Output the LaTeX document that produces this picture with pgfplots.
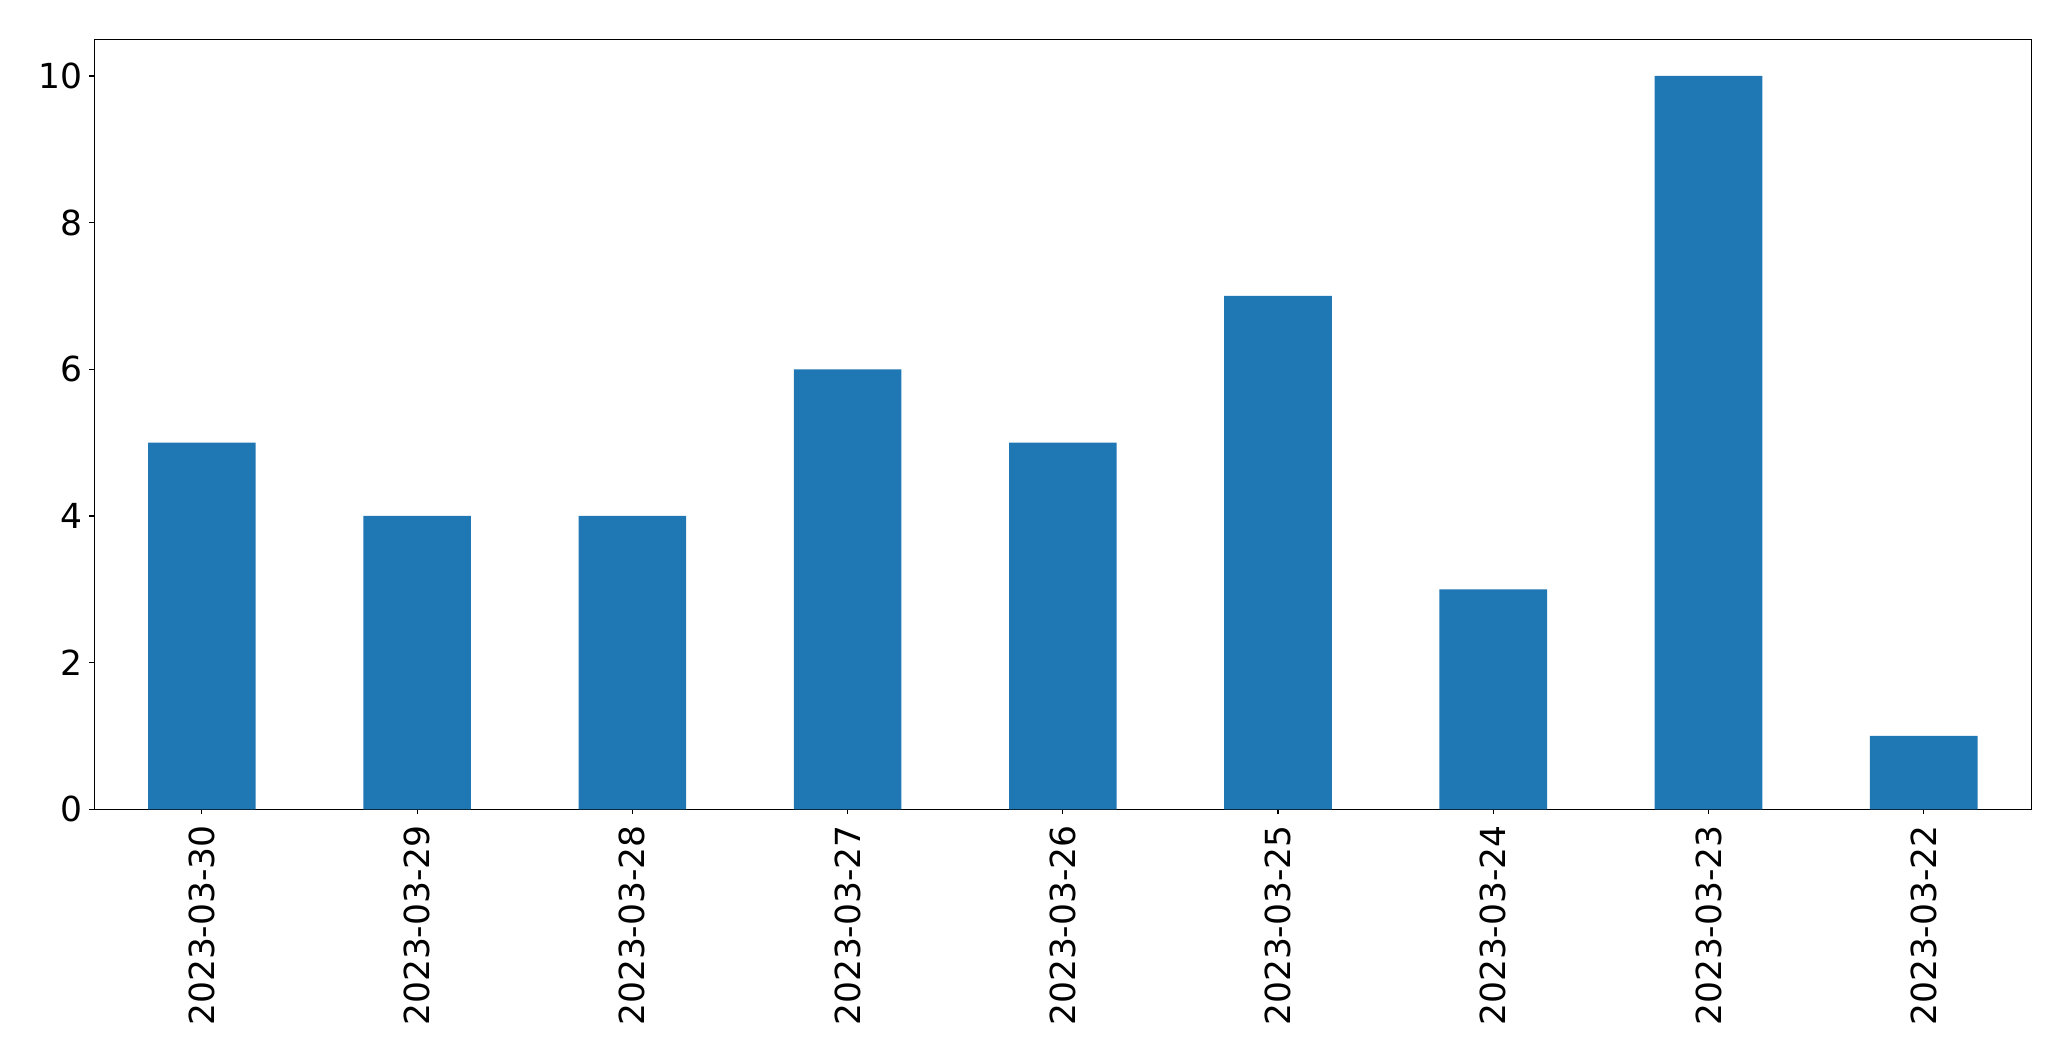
\documentclass[border=0pt]{standalone}
\usepackage{pgfplots}
\pgfplotsset{compat=1.18}
\usepackage{fontspec}
\setmainfont{DejaVu Sans}
\definecolor{mplblue}{HTML}{1F77B4}
\begin{document}
\begin{tikzpicture}
\path[use as bounding box] (0,0) rectangle (1035.5pt,530.5pt);
\begin{axis}[
  scale only axis,
  width=968.5pt, height=385pt,
  at={(47.15pt,125.85pt)}, anchor=south west,
  xmin=-0.5, xmax=8.5, ymin=0, ymax=10.5,
  xtick={0,1,2,3,4,5,6,7,8},
  xticklabels={2023-03-30,2023-03-29,2023-03-28,2023-03-27,2023-03-26,2023-03-25,2023-03-24,2023-03-23,2023-03-22},
  ytick={0,2,4,6,8,10},
  tick align=outside, tick pos=left,
  major tick length=2.45pt,
  axis line style={black, line width=0.55pt},
  every tick/.style={black, line width=0.55pt},
  /pgf/number format/assume math mode=true,
  tick label style={font=\fontsize{17.25}{20}\selectfont},
  xticklabel shift=2pt,
  xticklabel style={rotate=90, anchor=east},
  yticklabel style={anchor=east},
]
\addplot[ybar, bar width=0.5, fill=mplblue, draw=none] coordinates {
(0,5) (1,4) (2,4) (3,6) (4,5) (5,7) (6,3) (7,10) (8,1)
};
\end{axis}
\end{tikzpicture}
\end{document}
